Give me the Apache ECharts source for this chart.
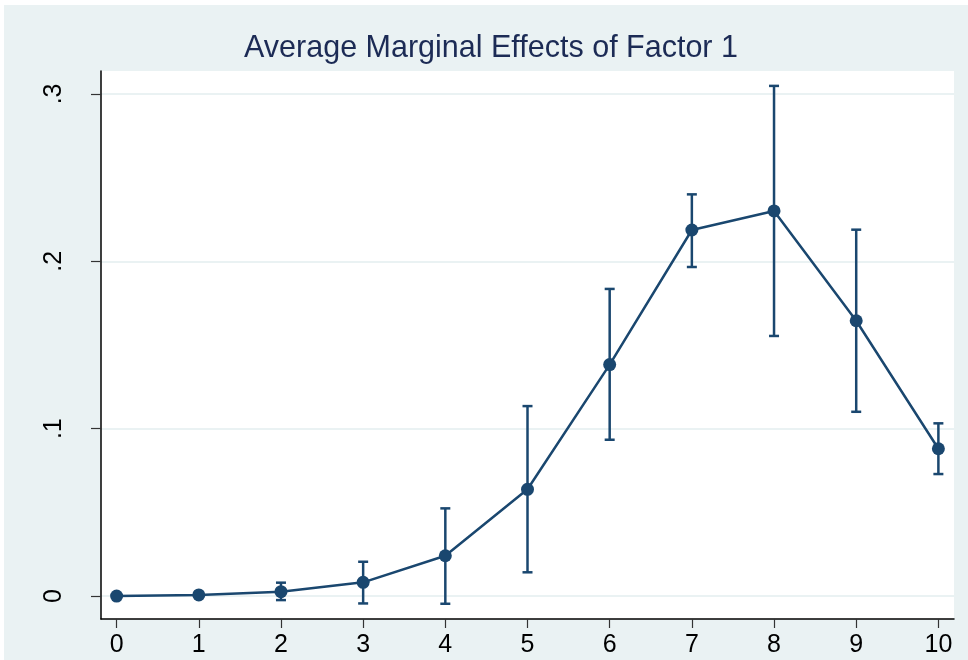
<!DOCTYPE html>
<html>
<head>
<meta charset="utf-8">
<title>Average Marginal Effects of Factor 1</title>
<script src="https://cdn.jsdelivr.net/npm/echarts@6/dist/echarts.min.js"></script>
<style>
html,body{margin:0;padding:0;background:#fff;}
#main{width:968px;height:660px;}
</style>
</head>
<body>
<div id="main"></div>
<script>
// values
var levels = [0, 1, 2, 3, 4, 5, 6, 7, 8, 9, 10];
var margins = [0.0000, 0.0007, 0.0026, 0.0082, 0.0241, 0.0638, 0.1383, 0.2187, 0.2301, 0.1645, 0.0880];
var lowerCI = [0.0000, 0.0003, -0.0024, -0.0044, -0.0046, 0.0142, 0.0934, 0.1966, 0.1554, 0.1101, 0.0729];
var upperCI = [0.0000, 0.0011, 0.0080, 0.0205, 0.0524, 0.1135, 0.1835, 0.2400, 0.3048, 0.2189, 0.1032];
var yTicks = [0, 0.1, 0.2, 0.3];

var navy = '#1a476f';
var font = 'Liberation Sans, Arial, sans-serif';

var points = [], bars = [];
for (var i = 0; i < levels.length; i++) {
	points.push([levels[i], margins[i]]);
	bars.push([levels[i], lowerCI[i], upperCI[i]]);
}

var chart = echarts.init(document.getElementById('main'));

var option = {
	backgroundColor: '#ffffff',
	animation: false,
	graphic: [{
		type: 'rect',
		z: -10,
		shape: {x: 4, y: 5, width: 964, height: 655},
		style: {fill: '#eaf2f3'}
	}],
	title: {
		text: 'Average Marginal Effects of Factor 1',
		left: 491,
		top: 33,
		padding: 0,
		textAlign: 'center',
		textStyle: {color: '#1c2b55', fontSize: 30.5, fontWeight: 'normal', fontFamily: font}
	},
	grid: {left: 101, right: 14, top: 71, bottom: 41, show: true, backgroundColor: '#ffffff', borderWidth: 0},
	xAxis: {
		type: 'value',
		min: -0.19,
		max: 10.19,
		axisLine: {show: true, onZero: false, lineStyle: {color: '#000', width: 1.5}},
		axisTick: {show: true, length: 9, customValues: levels, lineStyle: {color: '#333', width: 1.2}},
		axisLabel: {customValues: levels, color: '#000', fontSize: 25, fontFamily: font, margin: 14},
		splitLine: {show: false}
	},
	yAxis: {
		type: 'value',
		min: -0.0137,
		max: 0.3137,
		axisLine: {show: true, onZero: false, lineStyle: {color: '#000', width: 1.5}},
		axisTick: {show: true, length: 10, customValues: yTicks, lineStyle: {color: '#333', width: 1.2}},
		axisLabel: {
			customValues: yTicks,
			rotate: 90,
			color: '#000',
			fontSize: 25,
			fontFamily: font,
			margin: 34,
			formatter: function(v){
				if (Math.abs(v) < 1e-9) return '0';
				return String(Math.round(v * 10) / 10).replace('0.', '.');
			}
		},
		splitLine: {show: true, lineStyle: {color: '#eaf2f3', width: 2}}
	},
	series: [
		{
			type: 'custom',
			data: bars,
			z: 2,
			renderItem: function(params, api){
				var x = api.value(0);
				var lo = api.coord([x, api.value(1)]);
				var hi = api.coord([x, api.value(2)]);
				var w = 5;
				var st = {stroke: navy, lineWidth: 2.5};
				return {
					type: 'group',
					children: [
						{type: 'line', shape: {x1: lo[0], y1: lo[1], x2: hi[0], y2: hi[1]}, style: st},
						{type: 'line', shape: {x1: lo[0] - w, y1: lo[1], x2: lo[0] + w, y2: lo[1]}, style: st},
						{type: 'line', shape: {x1: hi[0] - w, y1: hi[1], x2: hi[0] + w, y2: hi[1]}, style: st}
					]
				};
			}
		},
		{
			type: 'line',
			data: points,
			z: 3,
			symbol: 'circle',
			symbolSize: 13,
			showAllSymbol: true,
			lineStyle: {color: navy, width: 2.5},
			itemStyle: {color: navy, borderWidth: 0}
		}
	]
};

chart.setOption(option);
</script>
</body>
</html>
